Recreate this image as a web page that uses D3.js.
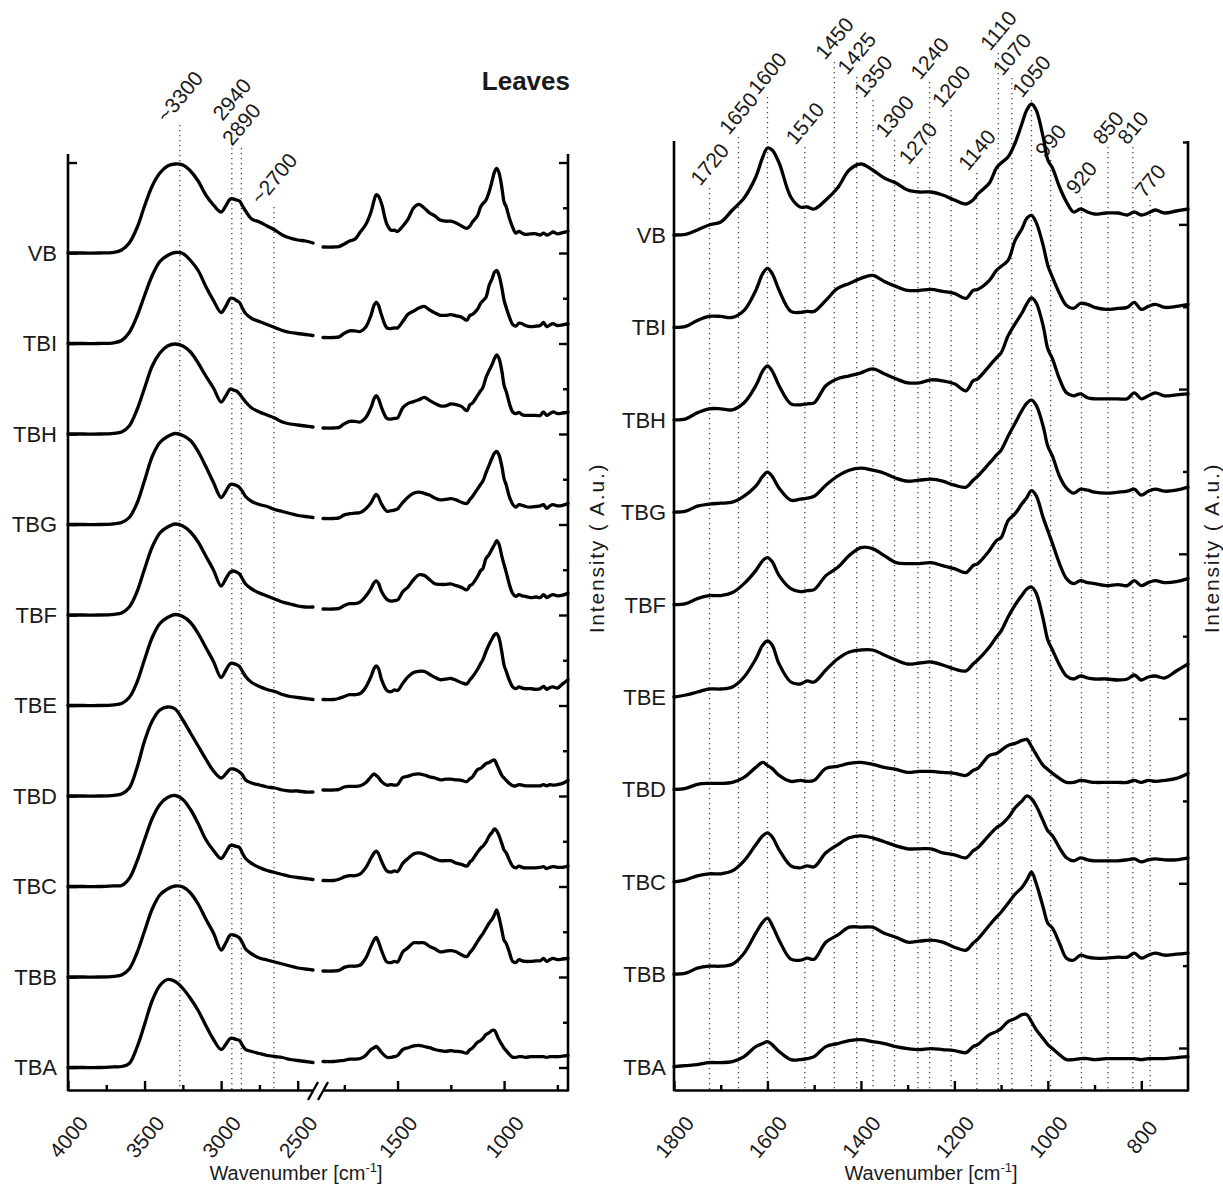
<!DOCTYPE html>
<html>
<head>
<meta charset="utf-8">
<script src="https://cdn.jsdelivr.net/npm/d3@7"></script>
<style>
  body { margin: 0; background: #fff; }
  text { font-family: "Liberation Sans", Arial, sans-serif; fill: #1a1a1a; }
</style>
</head>
<body>
<svg id="chart" width="1223" height="1185"></svg>
<script>
// sample names, top to bottom
const samples = ["VB", "TBI", "TBH", "TBG", "TBF", "TBE", "TBD", "TBC", "TBB", "TBA"];

// O-H / C-H region (left panel, first segment)
const ohWavenumbers = [4000, 3900, 3800, 3700, 3650, 3600, 3550, 3500, 3450, 3400, 3350, 3300, 3250, 3200, 3150, 3100, 3050, 3000,
  2970, 2940, 2920, 2900, 2880, 2860, 2840, 2800, 2750, 2700, 2650, 2600, 2550, 2500, 2450, 2400];
const ohVB  = [0, 0, 0, 0.7, 3, 10, 25, 47, 67, 80, 87, 89, 88, 82, 72, 58, 48, 41, 47, 54, 54, 53, 52, 47, 42, 34, 31, 27, 23, 18, 15, 13, 12, 10];
const ohTBI = [0, 0, 0, 0.7, 3, 11, 27, 48, 68, 82, 88, 91, 90, 83, 73, 57, 43, 31, 37, 45, 45, 43, 41, 35, 30, 25, 22, 19, 16, 13, 11, 10, 9, 8];
const ohTBH = [0, 0, 0, 0.7, 2, 8, 24, 46, 68, 81, 88, 90, 88, 82, 71, 58, 46, 32, 38, 45, 44, 43, 40, 36, 32, 26, 22, 19, 16, 12, 10, 9, 8, 7];
const ohTBG = [0, 0, 0, 0.7, 2, 7, 21, 44, 68, 82, 88, 91, 89, 84, 73, 58, 42, 27, 33, 40, 40, 39, 37, 33, 28, 23, 20, 18, 15, 13, 11, 9, 8, 7];
const ohTBF = [0, 0, 0, 0.7, 2, 8, 23, 46, 68, 82, 88, 91, 89, 83, 73, 59, 45, 29, 36, 43, 44, 43, 41, 36, 31, 26, 22, 19, 16, 13, 11, 9, 8, 8];
const ohTBE = [0, 0, 0, 0.7, 2, 8, 23, 46, 68, 82, 88, 91, 89, 83, 72, 58, 44, 28, 35, 42, 42, 41, 39, 34, 29, 23, 19, 16, 14, 11, 9, 8, 7, 6];
const ohTBD = [0, 0, 0, 0.7, 2, 8, 28, 55, 75, 86, 89, 87, 76, 63, 50, 37, 25, 18, 22, 27, 27, 26, 24, 21, 16, 13, 11, 9, 8, 6, 5, 5, 4, 4];
const ohTBC = [0, 0, 0, 0.7, 1, 8, 25, 47, 68, 82, 89, 91, 87, 77, 63, 47, 36, 28, 34, 41, 41, 40, 39, 33, 28, 23, 19, 16, 14, 12, 10, 9, 8, 7];
const ohTBB = [0, 0, 0, 0.7, 2, 8, 24, 46, 68, 82, 88, 91, 90, 84, 73, 58, 44, 27, 34, 42, 42, 41, 39, 34, 28, 23, 19, 17, 15, 13, 11, 9, 8, 7];
const ohTBA = [0, 0, 0, 0.7, 1, 4, 20, 43, 67, 82, 88, 86, 79, 69, 57, 42, 28, 18, 23, 29, 29, 28, 27, 22, 18, 16, 14, 12, 11, 10, 8, 7, 6, 5];

// fingerprint region (right panel, and second segment of the left panel)
const fpWavenumbers = [1850, 1800, 1775, 1750, 1725, 1700, 1675, 1650, 1625, 1610, 1600, 1590, 1575, 1550, 1530, 1515, 1500, 1475, 1450,
  1425, 1400, 1375, 1350, 1325, 1300, 1275, 1250, 1225, 1200, 1175, 1160, 1150, 1125, 1110, 1100, 1085, 1070, 1055, 1045, 1035, 1025,
  1010, 1000, 990, 975, 960, 945, 930, 915, 900, 875, 850, 830, 815, 800, 785, 770, 750, 725, 700];
const fpVB  = [0, 0, 0.7, 5, 10, 13, 25, 37, 58, 78, 87, 85, 72, 38, 28, 28, 26, 35, 47, 65, 71, 65, 57, 52, 45, 43, 43, 40, 35, 31, 35, 41, 52, 67, 72, 78, 92, 112, 125, 131, 125, 98, 75, 67, 48, 33, 23, 26, 23, 21, 22, 22, 20, 23, 20, 22, 25, 22, 24, 26];
const fpTBI = [0, 0, 1, 7, 11, 11, 10, 17, 37, 54, 59, 54, 37, 16, 15, 16, 16, 27, 39, 44, 49, 52, 46, 41, 37, 37, 38, 36, 34, 29, 37, 38, 47, 57, 61, 67, 87, 99, 109, 112, 105, 82, 62, 50, 34, 22, 19, 24, 23, 20, 18, 19, 20, 25, 18, 21, 23, 20, 21, 23];
const fpTBH = [0, 0, 1, 7, 11, 11, 10, 17, 34, 49, 54, 49, 34, 16, 15, 16, 17, 34, 41, 44, 47, 51, 46, 41, 37, 37, 40, 39, 36, 29, 39, 41, 54, 62, 67, 84, 96, 107, 116, 122, 117, 94, 71, 61, 41, 27, 24, 26, 22, 21, 21, 21, 21, 27, 21, 24, 27, 24, 25, 26];
const fpTBG = [0, 0, 1, 6, 8, 9, 10, 16, 26, 36, 40, 36, 24, 12, 13, 14, 16, 27, 36, 42, 44, 42, 39, 34, 31, 32, 33, 31, 27, 25, 32, 36, 49, 57, 62, 76, 89, 102, 109, 112, 107, 86, 66, 56, 36, 24, 19, 23, 22, 20, 19, 20, 21, 23, 17, 21, 23, 21, 22, 25];
const fpTBF = [0, 0, 1, 6, 9, 9, 12, 21, 34, 44, 47, 43, 29, 16, 13, 14, 15, 29, 37, 49, 57, 56, 49, 42, 41, 41, 42, 39, 36, 32, 39, 41, 54, 64, 67, 84, 91, 101, 107, 114, 109, 87, 74, 61, 41, 26, 21, 24, 22, 21, 19, 20, 19, 24, 19, 22, 24, 22, 23, 26];
const fpTBE = [0, 0, 2, 5, 8, 8, 10, 20, 38, 52, 56, 52, 33, 15, 13, 16, 15, 27, 38, 45, 47, 47, 42, 37, 33, 34, 35, 32, 28, 26, 33, 37, 50, 60, 66, 80, 92, 102, 108, 110, 104, 78, 57, 47, 32, 21, 18, 21, 19, 18, 18, 17, 18, 22, 17, 20, 21, 19, 26, 33];
const fpTBD = [0, 0, 1, 5, 6, 6, 7, 12, 22, 27, 24, 21, 14, 8, 9, 8, 9, 21, 23, 26, 27, 25, 22, 20, 17, 18, 18, 17, 16, 14, 19, 21, 34, 36, 39, 44, 46, 49, 50, 43, 35, 24, 20, 16, 11, 7, 7, 9, 8, 7, 7, 7, 7, 9, 7, 9, 8, 9, 11, 16];
const fpTBC = [0, 0, 2, 6, 8, 8, 11, 21, 37, 46, 49, 45, 32, 16, 14, 16, 15, 29, 37, 44, 46, 44, 40, 36, 33, 33, 33, 29, 27, 24, 31, 34, 47, 54, 57, 64, 74, 81, 86, 83, 76, 61, 51, 46, 34, 24, 21, 24, 22, 21, 21, 21, 22, 23, 20, 22, 23, 22, 22, 24];
const fpTBB = [0, 0, 1, 6, 8, 8, 10, 21, 41, 52, 56, 49, 34, 15, 14, 16, 15, 32, 39, 47, 47, 47, 41, 37, 32, 33, 34, 32, 27, 24, 31, 35, 49, 57, 62, 71, 80, 87, 94, 102, 91, 67, 51, 46, 31, 16, 14, 19, 17, 16, 16, 17, 17, 21, 16, 19, 21, 19, 20, 21];
const fpTBA = [0, 0, 1, 2, 4, 4, 5, 10, 20, 23, 25, 22, 15, 7, 7, 8, 10, 20, 23, 26, 27, 25, 23, 20, 18, 17, 18, 17, 16, 14, 20, 22, 32, 35, 38, 45, 48, 52, 52, 45, 37, 28, 22, 18, 12, 7, 7, 8, 8, 7, 8, 8, 8, 8, 7, 8, 8, 8, 9, 10];

const ohSeries = [ohVB, ohTBI, ohTBH, ohTBG, ohTBF, ohTBE, ohTBD, ohTBC, ohTBB, ohTBA];
const fpSeries = [fpVB, fpTBI, fpTBH, fpTBG, fpTBF, fpTBE, fpTBD, fpTBC, fpTBB, fpTBA];

// band markers
const leftBandPos = [3270, 2930, 2868, 2655];
const leftBandLabels = ["~3300", "2940", "2890", "~2700"];
const rightBandPos = [1724, 1662, 1600, 1520, 1457, 1409, 1374, 1328, 1278, 1253, 1207, 1152, 1106, 1077, 1035, 994, 928, 871, 818, 781];
const rightBandLabels = ["1720", "1650", "1600", "1510", "1450", "1425", "1350", "1300", "1270", "1240", "1200", "1140", "1110", "1070",
  "1050", "990", "920", "850", "810", "770"];

// tick values
const ohMajor = [4000, 3500, 3000, 2500];
const ohMinor = [3750, 3250, 2750];
const fpLeftMajor = [1500, 1000];
const fpLeftMinor = [1750, 1250, 750];
const rightMajor = [1800, 1600, 1400, 1200, 1000, 800];
const rightMinor = [1700, 1500, 1300, 1100, 900];

// layout
const bottomY = 1090;
const leftTop = 154, rightTop = 141;
const leftBandTop = [125, 123, 148, 207];
const rightBandTop = [188, 137, 97, 147, 62, 77, 100, 140, 167, 82, 110, 173, 53, 78, 100, 160, 197, 147, 147, 200];
const leftRow = i => 253 + i * 90.5;
const rightRow = i => 235 + i * 92.4;
const tagAngle = 50, tagSize = 21;

const svg = d3.select("#chart");

const xOH = d3.scaleLinear().domain([4000, 2400]).range([68, 313]);
const xFPL = d3.scaleLinear().domain([1850, 700]).range([323, 568]);
const xR = d3.scaleLinear().domain([1800, 700]).range([674, 1188]);
const yAmp = d3.scaleLinear().domain([0, 100]).range([0, -100]);
const yFPL = d3.scaleLinear().domain([0, 100]).range([-6, -66]);

// dotted band lines (under the spectra), labels centred above each line
function bandLines(pos, tops, labels, x) {
  const g = svg.append("g");
  g.selectAll("line").data(pos).enter().append("line")
    .attr("x1", d => x(d)).attr("x2", d => x(d))
    .attr("y1", (d, i) => tops[i]).attr("y2", bottomY)
    .attr("stroke", "#444").attr("stroke-width", 1.3)
    .attr("stroke-dasharray", "1.3,3.7");
  const rad = tagAngle * Math.PI / 180;
  g.selectAll("text").data(labels).enter().append("text")
    .attr("font-size", tagSize)
    .attr("fill", "#2a2a2a")
    .attr("text-anchor", "middle")
    .attr("dy", "0.35em")
    .text(d => d)
    .attr("transform", function (d, i) {
      const len = this.getComputedTextLength();
      const h = len * Math.sin(rad) + 0.72 * tagSize * Math.cos(rad);
      return `translate(${x(pos[i])},${tops[i] - h / 2 - 1}) rotate(${-tagAngle})`;
    });
}
bandLines(leftBandPos, leftBandTop, leftBandLabels, xOH);
bandLines(rightBandPos, rightBandTop, rightBandLabels, xR);

// spectra
const curve = d3.curveCatmullRom.alpha(0.5);
const lineOH = d3.line().x(d => xOH(d[0])).y(d => yAmp(d[1])).curve(curve);
const lineFPL = d3.line().x(d => xFPL(d[0])).y(d => yFPL(d[1])).curve(curve);
const lineR = d3.line().x(d => xR(d[0])).y(d => yAmp(d[1])).curve(curve);

const spectra = svg.append("g").attr("fill", "none").attr("stroke", "#000")
  .attr("stroke-width", 3.3).attr("stroke-linejoin", "round").attr("stroke-linecap", "round");

samples.forEach((name, i) => {
  const oh = ohWavenumbers.map((w, j) => [w, ohSeries[i][j]]);
  const fp = fpWavenumbers.map((w, j) => [w, fpSeries[i][j]]);

  const gl = spectra.append("g").attr("transform", `translate(0,${leftRow(i)})`);
  gl.append("path").attr("d", lineOH(oh));
  gl.append("path").attr("d", lineFPL(fp));

  const gr = spectra.append("g").attr("transform", `translate(0,${rightRow(i)})`);
  gr.append("path").attr("d", lineR(fp.filter(d => d[0] <= 1800)));

  svg.append("text").attr("x", 57).attr("y", leftRow(i)).attr("dy", "0.36em")
    .attr("text-anchor", "end").attr("font-size", 22).text(name);
  svg.append("text").attr("x", 666).attr("y", rightRow(i)).attr("dy", "0.36em")
    .attr("text-anchor", "end").attr("font-size", 22).text(name);
});

// frames
const frame = svg.append("g").attr("stroke", "#000").attr("stroke-width", 2.6);
[[68, leftTop], [568, leftTop], [674, rightTop], [1188, rightTop]].forEach(([x, t]) => {
  frame.append("line").attr("x1", x).attr("x2", x).attr("y1", t).attr("y2", bottomY + 1.3);
});

// vertical ticks (inward)
const yTickL = d3.scaleLinear().domain([0, 10]).range([leftRow(-1), leftRow(9)]);
const yTickR = d3.scaleLinear().domain([0, 11]).range([142, 1048]);
function yTicks(scale, x, orient, values, size) {
  const ax = (orient === "right" ? d3.axisRight(scale) : d3.axisLeft(scale))
    .tickValues(values).tickSize(-size).tickSizeOuter(0).tickFormat("");
  svg.append("g").attr("transform", `translate(${x},0)`).call(ax)
    .call(g => g.select(".domain").remove())
    .selectAll("line").attr("stroke", "#000").attr("stroke-width", 2.4);
}
yTicks(yTickL, 68, "left", d3.range(0, 11), 9);
yTicks(yTickL, 568, "right", d3.range(0, 11), 9);
yTicks(yTickL, 568, "right", d3.range(0.5, 10, 1), 5);
yTicks(yTickR, 1188, "right", d3.range(1, 12, 2), 9);
yTicks(yTickR, 1188, "right", d3.range(0, 12, 2), 5);

// bottom axes
function xAxis(scale, major, minor) {
  const g = svg.append("g").attr("transform", `translate(0,${bottomY})`);
  g.append("g").call(d3.axisBottom(scale).tickValues(minor).tickSize(-5).tickSizeOuter(0).tickFormat(""))
    .call(s => s.select(".domain").remove());
  g.append("g").call(d3.axisBottom(scale).tickValues(major).tickSize(-9).tickSizeOuter(0).tickFormat(d3.format("d")))
    .call(s => s.select(".domain").attr("stroke-width", 2.6))
    .selectAll("text")
    .attr("y", 0).attr("dy", "0.35em")
    .attr("transform", "translate(0,47) rotate(-50)")
    .attr("text-anchor", "middle")
    .attr("font-size", 21)
    .attr("font-family", "'Liberation Sans', Arial, sans-serif")
    .attr("fill", "#1a1a1a");
  g.selectAll(".tick line").attr("stroke", "#000").attr("stroke-width", 2.4);
}
xAxis(xOH, ohMajor, ohMinor);
xAxis(xFPL, fpLeftMajor, fpLeftMinor);
xAxis(xR, rightMajor, rightMinor);

// axis break marks
svg.append("g").selectAll("line").data([308, 318]).enter().append("line")
  .attr("x1", d => d).attr("y1", bottomY + 10).attr("x2", d => d + 10).attr("y2", bottomY - 8)
  .attr("stroke", "#000").attr("stroke-width", 2.4);

// axis titles
function xTitle(cx) {
  const t = svg.append("text").attr("x", cx).attr("y", 1180).attr("text-anchor", "middle").attr("font-size", 20);
  t.append("tspan").text("Wavenumber [cm");
  t.append("tspan").attr("dy", -8).attr("font-size", 13).text("-1");
  t.append("tspan").attr("dy", 8).text("]");
}
xTitle(296);
xTitle(931);

[597, 1212].forEach(x => {
  svg.append("text").attr("transform", `translate(${x},548) rotate(-90)`)
    .attr("text-anchor", "middle").attr("dy", "0.35em").attr("font-size", 21)
    .attr("letter-spacing", 1.8)
    .attr("fill", "#222").text("Intensity ( A.u.)");
});

svg.append("text").attr("x", 570).attr("y", 90).attr("text-anchor", "end")
  .attr("font-size", 26).attr("font-weight", "bold").attr("fill", "#383838").text("Leaves");
</script>
</body>
</html>
